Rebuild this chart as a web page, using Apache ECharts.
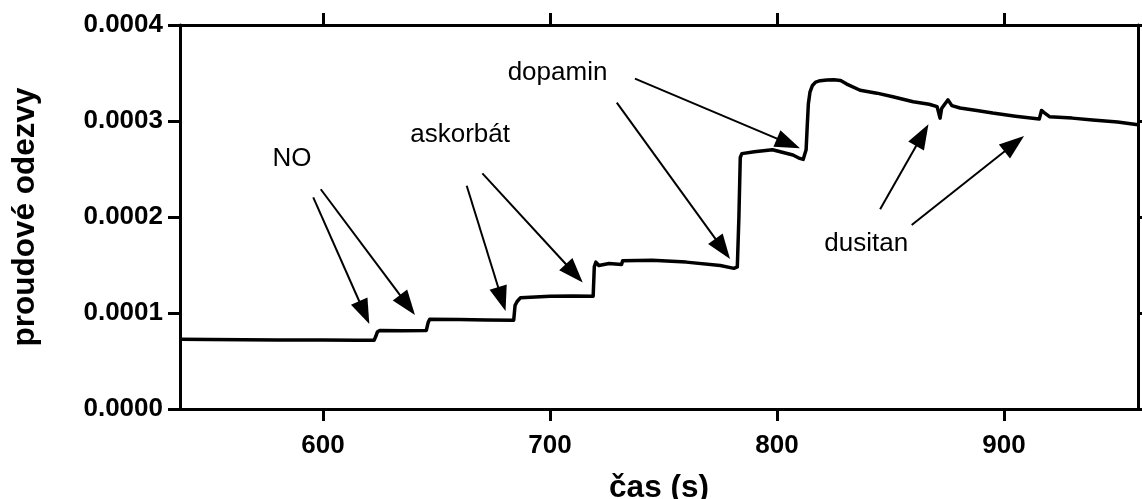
<!DOCTYPE html>
<html>
<head>
<meta charset="utf-8">
<script src="https://cdn.jsdelivr.net/npm/echarts@6/dist/echarts.min.js"></script>
<style>
  html, body { margin: 0; padding: 0; background: #fff; }
  #chart { width: 1142px; height: 499px; }
</style>
</head>
<body>
<div id="chart"></div>
<script>
// Amperometric trace: time (s) and current response
const time = [
  537, 550, 565, 580, 600, 615, 622.5, 623.3, 624, 625, 635, 645.5, 646.3, 647, 660, 672, 684,
  684.6, 685.5, 687, 700, 710, 719, 719.5, 720.2, 721.5, 726, 731.5, 732, 745, 760, 775, 781,
  782.5, 783.2, 783.8, 784.5, 790, 798, 807, 810, 811.5, 812.8, 813.3, 813.8, 814.5, 815.6, 817, 819, 822, 825,
  828, 830.7, 836.6, 844, 851, 860, 867, 870.5, 871.3, 871.8, 872.5, 874, 875.3, 877, 880.6,
  888, 895, 905, 915.5, 916.5, 917.5, 920, 930, 939, 950, 959
];
const current = [
  0.0000727, 0.0000724, 0.0000722, 0.0000720, 0.0000718, 0.0000717, 0.0000715, 0.0000760, 0.0000805, 0.0000818, 0.0000816, 0.0000818, 0.0000900, 0.0000935, 0.0000932, 0.0000928, 0.0000925,
  0.0001080, 0.0001120, 0.0001160, 0.0001175, 0.0001178, 0.0001175, 0.0001480, 0.0001530, 0.0001495, 0.0001515, 0.0001505, 0.0001545, 0.0001550, 0.0001530, 0.0001495, 0.0001465,
  0.0001480, 0.0002000, 0.0002620, 0.0002660, 0.0002680, 0.0002700, 0.0002646, 0.0002610, 0.0002600, 0.0002700, 0.0002950, 0.0003180, 0.0003300, 0.0003370, 0.0003405, 0.0003420, 0.0003428, 0.0003430,
  0.0003422, 0.0003385, 0.0003320, 0.0003290, 0.0003253, 0.0003200, 0.0003175, 0.0003150, 0.0003140, 0.0003030, 0.0003130, 0.0003180, 0.0003220, 0.0003160, 0.0003135,
  0.0003110, 0.0003083, 0.0003050, 0.0003020, 0.0003110, 0.0003090, 0.0003045, 0.0003030, 0.0003010, 0.0002990, 0.0002960
];

const xTicks = [600, 700, 800, 900];

// Annotation labels: [text, time, current] (text anchor: centre, baseline)
const noteLabels = [
  ['NO', 586.3, 0.0002469],
  ['askorbát', 660.4, 0.0002719],
  ['dopamin', 703.3, 0.0003365],
  ['dusitan', 839.3, 0.0001583]
];
// Annotation arrows: [fromTime, fromCurrent, toTime, toCurrent]
const noteArrows = [
  [595.7, 0.0002205, 620.4, 0.0000885],
  [599.0, 0.0002289, 640.5, 0.0000979],
  [663.3, 0.0002326, 680.4, 0.0001021],
  [670.2, 0.0002455, 714.4, 0.0001318],
  [729.4, 0.0003191, 779.3, 0.0001563],
  [737.4, 0.0003441, 810.1, 0.0002716],
  [845.4, 0.0002080, 866.7, 0.0002966],
  [859.3, 0.0001917, 908.8, 0.0002844]
];

const FONT = '"Liberation Sans", Arial, Helvetica, sans-serif';
const xMin = 537, xMax = 959;

const chart = echarts.init(document.getElementById('chart'), null, { renderer: 'canvas' });

const axisLine = { show: true, onZero: false, lineStyle: { color: '#000', width: 3 } };
const tickStyle = { show: true, inside: false, length: 12, lineStyle: { color: '#000', width: 3 } };

chart.setOption({
  animation: false,
  backgroundColor: '#fff',
  grid: { left: 180, right: 4, top: 25, bottom: 90, containLabel: false, outerBoundsMode: 'none' },
  xAxis: [
    {
      type: 'value', position: 'bottom', min: xMin, max: xMax,
      name: 'čas (s)', nameLocation: 'middle', nameGap: 63,
      nameTextStyle: { fontFamily: FONT, fontWeight: 'bold', fontSize: 31.5, color: '#000' },
      axisLine: axisLine,
      axisTick: Object.assign({ customValues: xTicks }, tickStyle),
      axisLabel: {
        customValues: xTicks, margin: 24,
        fontFamily: FONT, fontWeight: 'bold', fontSize: 26, color: '#000'
      },
      splitLine: { show: false }
    },
    {
      type: 'value', position: 'top', min: xMin, max: xMax,
      axisLine: axisLine,
      axisTick: Object.assign({ customValues: xTicks }, tickStyle),
      axisLabel: { show: false },
      splitLine: { show: false }
    }
  ],
  yAxis: [
    {
      type: 'value', position: 'left', min: 0, max: 0.0004, interval: 0.0001,
      name: 'proudové odezvy', nameLocation: 'middle', nameGap: 139,
      nameTextStyle: { fontFamily: FONT, fontWeight: 'bold', fontSize: 31.5, color: '#000' },
      axisLine: axisLine,
      axisTick: tickStyle,
      axisLabel: {
        margin: 17, fontFamily: FONT, fontWeight: 'bold', fontSize: 26, color: '#000',
        padding: [8, 0, 0, 0],
        formatter: v => v.toFixed(4)
      },
      splitLine: { show: false }
    },
    {
      type: 'value', position: 'right', min: 0, max: 0.0004, interval: 0.0001,
      axisLine: axisLine,
      axisTick: tickStyle,
      axisLabel: { show: false },
      splitLine: { show: false }
    }
  ],
  series: [
    {
      type: 'line',
      xAxisIndex: 0, yAxisIndex: 0,
      data: time.map((t, i) => [t, current[i]]),
      showSymbol: false,
      smooth: false,
      lineStyle: { color: '#000', width: 3.5, join: 'round' },
      z: 3
    }
  ]
});

// Annotations (text + arrows) placed from data coordinates
function toPx(t, c) {
  return chart.convertToPixel({ xAxisIndex: 0, yAxisIndex: 0 }, [t, c]);
}
const elements = [];
noteLabels.forEach(([txt, t, c]) => {
  const p = toPx(t, c);
  elements.push({
    type: 'text', x: p[0], y: p[1], z: 10,
    style: {
      text: txt, fill: '#000', font: '26px ' + FONT,
      align: 'center', verticalAlign: 'bottom'
    }
  });
});
const headLen = 25, headHalf = 9;
noteArrows.forEach(([t0, c0, t1, c1]) => {
  const a = toPx(t0, c0), b = toPx(t1, c1);
  const dx = b[0] - a[0], dy = b[1] - a[1];
  const len = Math.hypot(dx, dy);
  const ux = dx / len, uy = dy / len;
  const bx = b[0] - ux * headLen, by = b[1] - uy * headLen;
  elements.push({
    type: 'line', z: 10,
    shape: { x1: a[0], y1: a[1], x2: bx + ux * 2, y2: by + uy * 2 },
    style: { stroke: '#000', lineWidth: 2 }
  });
  elements.push({
    type: 'polygon', z: 10,
    shape: { points: [
      [b[0], b[1]],
      [bx - uy * headHalf, by + ux * headHalf],
      [bx + uy * headHalf, by - ux * headHalf]
    ] },
    style: { fill: '#000' }
  });
});
chart.setOption({ graphic: { elements: elements } });
</script>
</body>
</html>
